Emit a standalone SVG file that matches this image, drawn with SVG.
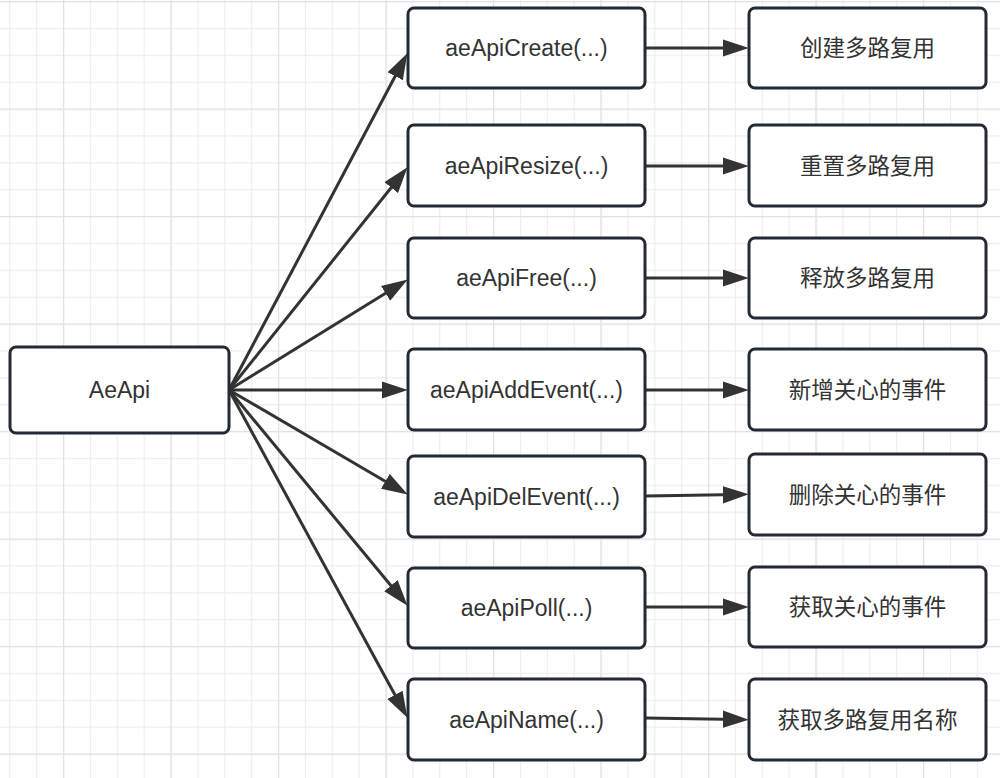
<svg xmlns="http://www.w3.org/2000/svg" width="1000" height="778" viewBox="0 0 1000 778">
<style>
.box{fill:#ffffff;stroke:#222b35;stroke-width:3}
.lbl{font-family:"Liberation Sans",Arial,"Noto Sans CJK SC",sans-serif;font-size:23px;fill:#333333;text-anchor:middle}
.cn{font-family:"Noto Sans CJK SC","Liberation Sans",sans-serif;font-size:22.5px;fill:#333333;text-anchor:middle}
.edge{stroke:#333333;stroke-width:3;fill:none;marker-end:url(#arr)}
</style>
<defs>
<marker id="arr" markerUnits="userSpaceOnUse" markerWidth="26" markerHeight="18" refX="14" refY="8" orient="auto" viewBox="0 0 24 16">
<path d="M0,0 L24,8 L0,16 Z" fill="#333333"/>
</marker>
<pattern id="minor" patternUnits="userSpaceOnUse" x="9.25" y="1" width="26.875" height="26.875">
<path d="M0.5,0 V26.875 M0,0.5 H26.875" stroke="#ededed" stroke-width="1.3" fill="none"/>
</pattern>
<pattern id="major" patternUnits="userSpaceOnUse" x="63" y="1" width="107.5" height="107.5">
<path d="M0.5,0 V107.5 M0,0.5 H107.5" stroke="#e2e2e2" stroke-width="1.5" fill="none"/>
</pattern>
</defs>
<rect width="1000" height="778" fill="#ffffff"/>
<rect width="1000" height="778" fill="url(#minor)"/>
<rect width="1000" height="778" fill="url(#major)"/>

<g id="connectors">
<line class="edge" x1="229" y1="390" x2="402.3" y2="62.8"/>
<line class="edge" x1="229" y1="390" x2="400.7" y2="175.8"/>
<line class="edge" x1="229" y1="390" x2="398.5" y2="285.3"/>
<line class="edge" x1="229" y1="390" x2="397" y2="390"/>
<line class="edge" x1="229" y1="390" x2="398.4" y2="489"/>
<line class="edge" x1="229" y1="390" x2="400.6" y2="597.3"/>
<line class="edge" x1="229" y1="390" x2="402.2" y2="708.2"/>
<line class="edge" x1="646" y1="48" x2="738" y2="48"/>
<line class="edge" x1="646" y1="166" x2="738" y2="166"/>
<line class="edge" x1="646" y1="278" x2="738" y2="278"/>
<line class="edge" x1="646" y1="390" x2="738" y2="390"/>
<line class="edge" x1="646" y1="496" x2="738" y2="494.5"/>
<line class="edge" x1="646" y1="607" x2="738" y2="607"/>
<line class="edge" x1="646" y1="718" x2="738" y2="719.5"/>
</g>

<g id="aeapi">
<rect class="box" x="10" y="347" width="219" height="86" rx="6"/>
<text class="lbl" x="119.5" y="398">AeApi</text>
</g>

<g id="create">
<rect class="box" x="408" y="8" width="237" height="80" rx="6"/>
<text class="lbl" x="526.5" y="56">aeApiCreate(...)</text>
</g>
<g id="resize">
<rect class="box" x="408" y="125" width="237" height="81" rx="6"/>
<text class="lbl" x="526.5" y="173.5">aeApiResize(...)</text>
</g>
<g id="free">
<rect class="box" x="408" y="238" width="237" height="80" rx="6"/>
<text class="lbl" x="526.5" y="286">aeApiFree(...)</text>
</g>
<g id="addevent">
<rect class="box" x="408" y="349" width="237" height="81" rx="6"/>
<text class="lbl" x="526.5" y="397.5">aeApiAddEvent(...)</text>
</g>
<g id="delevent">
<rect class="box" x="408" y="456" width="237" height="81" rx="6"/>
<text class="lbl" x="526.5" y="504.5">aeApiDelEvent(...)</text>
</g>
<g id="poll">
<rect class="box" x="408" y="568" width="237" height="80" rx="6"/>
<text class="lbl" x="526.5" y="616">aeApiPoll(...)</text>
</g>
<g id="name">
<rect class="box" x="408" y="679" width="237" height="81" rx="6"/>
<text class="lbl" x="526.5" y="727.5">aeApiName(...)</text>
</g>

<g id="r-create">
<rect class="box" x="749" y="8" width="237" height="80" rx="6"/>
<text class="cn" x="867.5" y="56">创建多路复用</text>
</g>
<g id="r-resize">
<rect class="box" x="749" y="125" width="237" height="81" rx="6"/>
<text class="cn" x="867.5" y="173.5">重置多路复用</text>
</g>
<g id="r-free">
<rect class="box" x="749" y="238" width="237" height="80" rx="6"/>
<text class="cn" x="867.5" y="286">释放多路复用</text>
</g>
<g id="r-addevent">
<rect class="box" x="749" y="349" width="237" height="81" rx="6"/>
<text class="cn" x="867.5" y="397.5">新增关心的事件</text>
</g>
<g id="r-delevent">
<rect class="box" x="749" y="454" width="237" height="81" rx="6"/>
<text class="cn" x="867.5" y="502.5">删除关心的事件</text>
</g>
<g id="r-poll">
<rect class="box" x="749" y="567" width="237" height="80" rx="6"/>
<text class="cn" x="867.5" y="615">获取关心的事件</text>
</g>
<g id="r-name">
<rect class="box" x="749" y="679" width="237" height="81" rx="6"/>
<text class="cn" x="867.5" y="727.5">获取多路复用名称</text>
</g>
</svg>
